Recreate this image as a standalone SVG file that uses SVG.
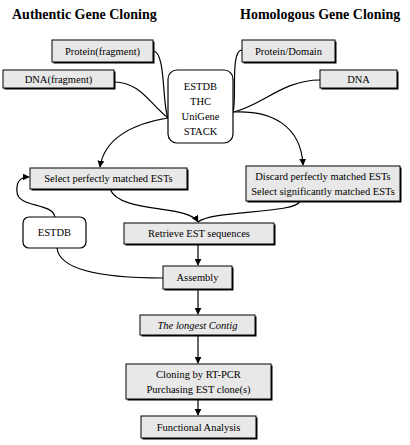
<svg xmlns="http://www.w3.org/2000/svg" width="410" height="445" viewBox="0 0 410 445">
<defs>
<marker id="ah" viewBox="0 0 10 10" refX="9" refY="5" markerWidth="7" markerHeight="7" orient="auto" markerUnits="userSpaceOnUse">
<path d="M0,0 L10,5 L0,10 z" fill="#000"/>
</marker>
<style>
text{font-family:'Liberation Serif','Times New Roman','DejaVu Serif',serif}
.title{font-weight:bold;font-size:14px;fill:#000}
.t{font-size:10.5px;fill:#000;text-anchor:middle}
.box{fill:#e8e8e8;stroke:#000;stroke-width:1}
.sh{fill:#000}
.rbox{fill:#fff;stroke:#000;stroke-width:1.2}
.c{fill:none;stroke:#000;stroke-width:1.2}
.ca{fill:none;stroke:#000;stroke-width:1.2;marker-end:url(#ah)}
</style>
</defs>
<rect width="410" height="445" fill="#fff"/>
<text class="title" x="12" y="19">Authentic Gene Cloning</text>
<text class="title" x="240" y="19">Homologous Gene Cloning</text>

<g id="connectors">
<path class="c" d="M153,51 C166,51 162,105 168,118"/>
<path class="c" d="M114,82 C140,82 150,104 168,118"/>
<path class="ca" d="M168,118 C130,124 104,140 100,167"/>
<path class="c" d="M242,50 C230,50 237,100 233,112"/>
<path class="c" d="M320,80 C282,80 262,106 233,112"/>
<path class="ca" d="M233,112 C272,110 301,126 303,165"/>
<path class="ca" d="M110,189 C120,214 188,204 198,222"/>
<path class="c" d="M300,201 C296,214 212,210 198,222"/>
<path class="ca" d="M55,217 C52,202 18,208 17,192 C16,182 20,177 29,177"/>
<path class="c" d="M57,248 C60,276 130,278 163,278"/>
<path class="ca" d="M198,245 L198,265"/>
<path class="ca" d="M198,290 L198,314"/>
<path class="ca" d="M198,336 L198,363"/>
<path class="ca" d="M198,400 L198,415"/>
</g>

<g id="protein-fragment">
<rect class="sh" x="53.5" y="41.5" width="101" height="22"/>
<rect class="box" x="52" y="40" width="101" height="22"/>
<text class="t" x="102.5" y="55">Protein(fragment)</text>
</g>
<g id="dna-fragment">
<rect class="sh" x="4.5" y="71.5" width="111" height="18"/>
<rect class="box" x="3" y="70" width="111" height="18"/>
<text class="t" x="58.5" y="83">DNA(fragment)</text>
</g>
<g id="databases">
<rect class="rbox" x="168" y="70" width="65" height="73" rx="9"/>
<text class="t" x="200.5" y="90">ESTDB</text>
<text class="t" x="200.5" y="105">THC</text>
<text class="t" x="200.5" y="120">UniGene</text>
<text class="t" x="200.5" y="135">STACK</text>
</g>
<g id="protein-domain">
<rect class="sh" x="243.5" y="41.5" width="93" height="22"/>
<rect class="box" x="242" y="40" width="93" height="22"/>
<text class="t" x="288.5" y="55">Protein/Domain</text>
</g>
<g id="dna">
<rect class="sh" x="321.5" y="71.5" width="77" height="18"/>
<rect class="box" x="320" y="70" width="77" height="18"/>
<text class="t" x="358.5" y="83">DNA</text>
</g>
<g id="select-perfect">
<rect class="sh" x="31.5" y="169.5" width="157" height="21"/>
<rect class="box" x="30" y="168" width="157" height="21"/>
<text class="t" x="108.5" y="182">Select perfectly matched ESTs</text>
</g>
<g id="discard">
<rect class="sh" x="247.5" y="167.5" width="154" height="35"/>
<rect class="box" x="246" y="166" width="154" height="35"/>
<text class="t" x="323" y="180">Discard perfectly matched ESTs</text>
<text class="t" x="323" y="195">Select significantly matched ESTs</text>
</g>
<g id="estdb">
<rect class="rbox" x="23" y="217" width="63" height="31" rx="6"/>
<text class="t" x="54.5" y="236">ESTDB</text>
</g>
<g id="retrieve">
<rect class="sh" x="125.5" y="224.5" width="150" height="21"/>
<rect class="box" x="124" y="223" width="150" height="21"/>
<text class="t" x="199" y="237" font-size="11">Retrieve EST sequences</text>
</g>
<g id="assembly">
<rect class="sh" x="164.5" y="267.5" width="69" height="23"/>
<rect class="box" x="163" y="266" width="69" height="23"/>
<text class="t" x="197.5" y="281">Assembly</text>
</g>
<g id="contig">
<rect class="sh" x="141.5" y="316.5" width="115" height="20"/>
<rect class="box" x="140" y="315" width="115" height="20"/>
<text class="t" x="197.5" y="329" font-style="italic">The longest Contig</text>
</g>
<g id="cloning">
<rect class="sh" x="127.5" y="365.5" width="145" height="35"/>
<rect class="box" x="126" y="364" width="145" height="35"/>
<text class="t" x="198.5" y="378">Cloning by RT-PCR</text>
<text class="t" x="198.5" y="393">Purchasing EST clone(s)</text>
</g>
<g id="functional">
<rect class="sh" x="142.5" y="417.5" width="115" height="22"/>
<rect class="box" x="141" y="416" width="115" height="22"/>
<text class="t" x="198.5" y="431">Functional Analysis</text>
</g>
</svg>
